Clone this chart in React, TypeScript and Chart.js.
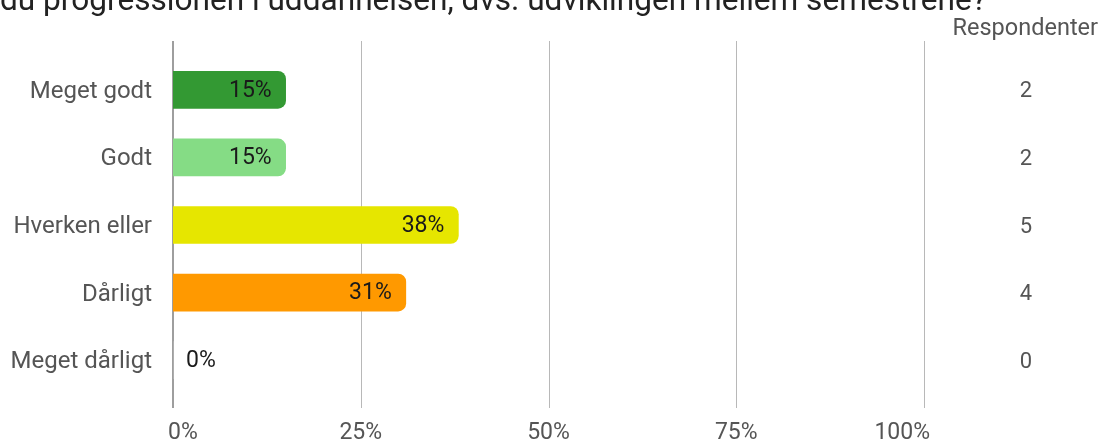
import React, { useEffect, useRef } from "react";
import { Chart, registerables } from "chart.js";

Chart.register(...registerables);

const titleVisible = "du progressionen i uddannelsen, dvs. udviklingen mellem semestrene?";
const categories = ["Meget godt", "Godt", "Hverken eller", "Dårligt", "Meget dårligt"];
const percentages = [15, 15, 38, 31, 0];
const respondents = [2, 2, 5, 4, 0];
const barColors = ["#339933", "#85dc85", "#e6e600", "#ff9900", "#cccccc"];
const xTicks = [0, 25, 50, 75, 100];
const xTickLabels = ["0%", "25%", "50%", "75%", "100%"];
const countHeader = "Respondenter";

const FONT = "Roboto, 'Noto Sans', sans-serif";

const overlayPlugin = {
  id: "overlay",
  beforeDatasetsDraw(chart: any) {
    const { ctx, chartArea } = chart;
    const x = chart.scales.x;
    ctx.save();
    xTicks.forEach((v, i) => {
      const px = Math.round(x.getPixelForValue(v));
      ctx.beginPath();
      if (i === 0) {
        ctx.strokeStyle = "#9e9e9e";
        ctx.lineWidth = 2;
        ctx.moveTo(px, chartArea.top - 15);
        ctx.lineTo(px, chartArea.bottom + 14);
      } else {
        ctx.strokeStyle = "#b8b8b8";
        ctx.lineWidth = 1;
        ctx.moveTo(px + 0.5, chartArea.top - 15);
        ctx.lineTo(px + 0.5, chartArea.bottom + 14);
      }
      ctx.stroke();
    });
    ctx.restore();
  },
  afterDatasetsDraw(chart: any) {
    const { ctx, chartArea } = chart;
    const x = chart.scales.x;
    const meta = chart.getDatasetMeta(0);
    ctx.save();
    ctx.textBaseline = "middle";
    meta.data.forEach((bar: any, i: number) => {
      const v = percentages[i];
      const label = `${Math.round(v)}%`;
      ctx.font = `23px ${FONT}`;
      ctx.fillStyle = "#1a1a1a";
      if (v > 0) {
        ctx.textAlign = "right";
        ctx.fillText(label, bar.x - 14, bar.y + 1);
      } else {
        ctx.textAlign = "left";
        ctx.fillText(label, bar.base + 13, bar.y + 1);
      }
      ctx.fillStyle = "#555555";
      ctx.textAlign = "center";
      ctx.font = `22px ${FONT}`;
      ctx.fillText(String(respondents[i]), 1026, bar.y + 2);
    });
    ctx.font = `23.5px ${FONT}`;
    ctx.fillStyle = "#555555";
    ctx.textAlign = "right";
    ctx.fillText(countHeader, 1098, 29);
    ctx.font = `23px ${FONT}`;
    ctx.fillStyle = "#555555";
    xTicks.forEach((v, i) => {
      const px = x.getPixelForValue(v);
      if (i === 0) {
        ctx.textAlign = "left";
        ctx.fillText(xTickLabels[i], px - 5, chartArea.bottom + 39);
      } else if (i === xTicks.length - 1) {
        ctx.textAlign = "right";
        ctx.fillText(xTickLabels[i], px + 6, chartArea.bottom + 39);
      } else {
        ctx.textAlign = "center";
        ctx.fillText(xTickLabels[i], px, chartArea.bottom + 39);
      }
    });
    ctx.textBaseline = "alphabetic";
    ctx.textAlign = "left";
    ctx.fillStyle = "#222222";
    ctx.font = `28px ${FONT}`;
    const w = ctx.measureText(titleVisible).width;
    const size = (28 * 987) / w;
    ctx.font = `${size}px ${FONT}`;
    ctx.fillText(titleVisible, 0, 10);
    ctx.restore();
  },
};

export default function App() {
  const ref = useRef<HTMLCanvasElement | null>(null);
  useEffect(() => {
    if (!ref.current) return;
    const chart = new Chart(ref.current, {
      type: "bar",
      data: {
        labels: categories,
        datasets: [
          {
            data: percentages,
            backgroundColor: barColors,
            borderWidth: 0,
            borderRadius: 8,
            borderSkipped: "start",
            barThickness: 37,
          },
        ],
      },
      options: {
        indexAxis: "y",
        animation: false,
        responsive: true,
        maintainAspectRatio: false,
        layout: { padding: { top: 56, right: 180, bottom: 49, left: 0 } },
        plugins: {
          legend: { display: false },
          tooltip: { enabled: false },
          title: { display: false },
        },
        scales: {
          x: {
            display: false,
            type: "linear",
            min: 0,
            max: 100,
          },
          y: {
            grid: { display: false, drawTicks: false },
            border: { display: false },
            ticks: {
              color: "#555555",
              font: { family: FONT, size: 24 },
              padding: 21,
              labelOffset: 2,
            },
            afterFit(scale: any) {
              scale.width = 173;
            },
          },
        },
      },
      plugins: [overlayPlugin],
    });
    return () => chart.destroy();
  }, []);
  return (
    <div style={{ position: "fixed", left: 0, top: 0, width: 1104, height: 443, background: "#ffffff" }}>
      <canvas ref={ref} />
    </div>
  );
}
